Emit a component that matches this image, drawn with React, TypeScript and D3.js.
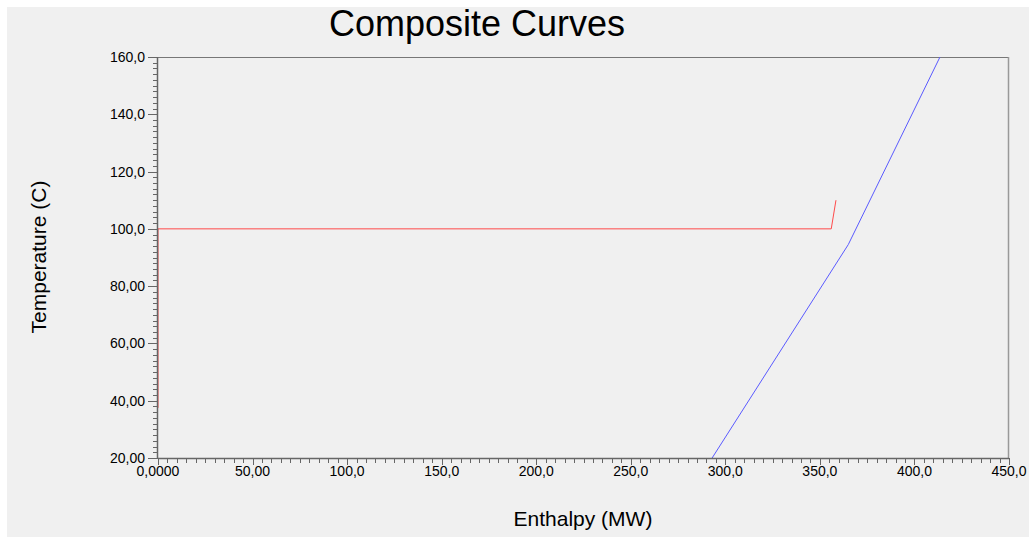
import React from "react";
import * as d3 from "d3";

// Hot composite curve (enthalpy MW, temperature C)
const hotEnthalpy = [0, 0, 356, 358.5];
const hotTemperature = [37.5, 100, 100, 110];

// Cold composite curve
const coldEnthalpy = [293, 365, 413.5];
const coldTemperature = [20, 94.5, 160];

const xTicks = [0, 50, 100, 150, 200, 250, 300, 350, 400, 450];
const xTickLabels = ["0,0000", "50,00", "100,0", "150,0", "200,0", "250,0", "300,0", "350,0", "400,0", "450,0"];
const yTicks = [20, 40, 60, 80, 100, 120, 140, 160];
const yTickLabels = ["20,00", "40,00", "60,00", "80,00", "100,0", "120,0", "140,0", "160,0"];

const W = 1029;
const H = 537;
const plot = { left: 158, right: 1009, top: 57, bottom: 458 };
const FONT = "'Liberation Sans', Arial, sans-serif";

export default function App() {
  const x = d3.scaleLinear().domain([0, 450]).range([plot.left, plot.right]);
  const y = d3.scaleLinear().domain([20, 160]).range([plot.bottom, plot.top]);

  const line = d3
    .line<[number, number]>()
    .x((d) => x(d[0]))
    .y((d) => y(d[1]));

  const hotPts = hotEnthalpy.map((e, i) => [e, hotTemperature[i]] as [number, number]);
  const coldPts = coldEnthalpy.map((e, i) => [e, coldTemperature[i]] as [number, number]);

  const xMinor = d3.range(0, 450.001, 5);
  const yMinor = d3.range(20, 160.001, 2);
  const axisColor = "#666";

  return (
    <svg
      width={W}
      height={H}
      style={{ position: "absolute", left: 0, top: 0, display: "block" }}
      fontFamily={FONT}
    >
      <rect x={0} y={0} width={W} height={H} fill="#ffffff" />
      <rect x={7} y={7} width={W - 7} height={H - 7} fill="#f0f0f0" />

      <text x={477} y={36} textAnchor="middle" fontSize={36} fill="#000">
        Composite Curves
      </text>

      {/* frame top / right */}
      <line x1={plot.left} x2={plot.right} y1={plot.top + 0.5} y2={plot.top + 0.5} stroke="#777" strokeWidth={1} />
      <line x1={plot.right - 0.5} x2={plot.right - 0.5} y1={plot.top} y2={plot.bottom} stroke="#999" strokeWidth={1.5} />

      {/* curves */}
      <path d={line(hotPts) ?? ""} fill="none" stroke="#ff4a4a" strokeWidth={1} />
      <path d={line(coldPts) ?? ""} fill="none" stroke="#5a5aff" strokeWidth={1} />

      {/* y axis */}
      <line x1={plot.left - 0.5} x2={plot.left - 0.5} y1={plot.top} y2={plot.bottom} stroke={axisColor} strokeWidth={1.5} />
      {yMinor.map((v) => (
        <line key={"ym" + v} x1={plot.left - 5} x2={plot.left - 1} y1={Math.round(y(v)) + 0.5} y2={Math.round(y(v)) + 0.5} stroke={axisColor} />
      ))}
      {yTicks.map((v, i) => (
        <g key={"yt" + v}>
          <line x1={plot.left - 10} x2={plot.left} y1={Math.round(y(v)) + 0.5} y2={Math.round(y(v)) + 0.5} stroke={axisColor} />
          <text x={plot.left - 13} y={y(v) + 5} textAnchor="end" fontSize={14} fill="#000">
            {yTickLabels[i]}
          </text>
        </g>
      ))}

      {/* x axis */}
      <line x1={plot.left} x2={plot.right} y1={plot.bottom + 0.5} y2={plot.bottom + 0.5} stroke={axisColor} strokeWidth={1.5} />
      {xMinor.map((v) => (
        <line key={"xm" + v} x1={Math.round(x(v)) + 0.5} x2={Math.round(x(v)) + 0.5} y1={plot.bottom + 1} y2={plot.bottom + 5} stroke={axisColor} />
      ))}
      {xTicks.map((v, i) => (
        <g key={"xt" + v}>
          <line x1={Math.round(x(v)) + 0.5} x2={Math.round(x(v)) + 0.5} y1={plot.bottom} y2={plot.bottom + 7} stroke={axisColor} />
          <text x={x(v)} y={plot.bottom + 18} textAnchor="middle" fontSize={14} fill="#000">
            {xTickLabels[i]}
          </text>
        </g>
      ))}

      <text
        transform={`translate(46, 257) rotate(-90)`}
        textAnchor="middle"
        fontSize={21}
        fill="#000"
      >
        Temperature (C)
      </text>
      <text x={583} y={526} textAnchor="middle" fontSize={21} fill="#000">
        Enthalpy (MW)
      </text>
    </svg>
  );
}
